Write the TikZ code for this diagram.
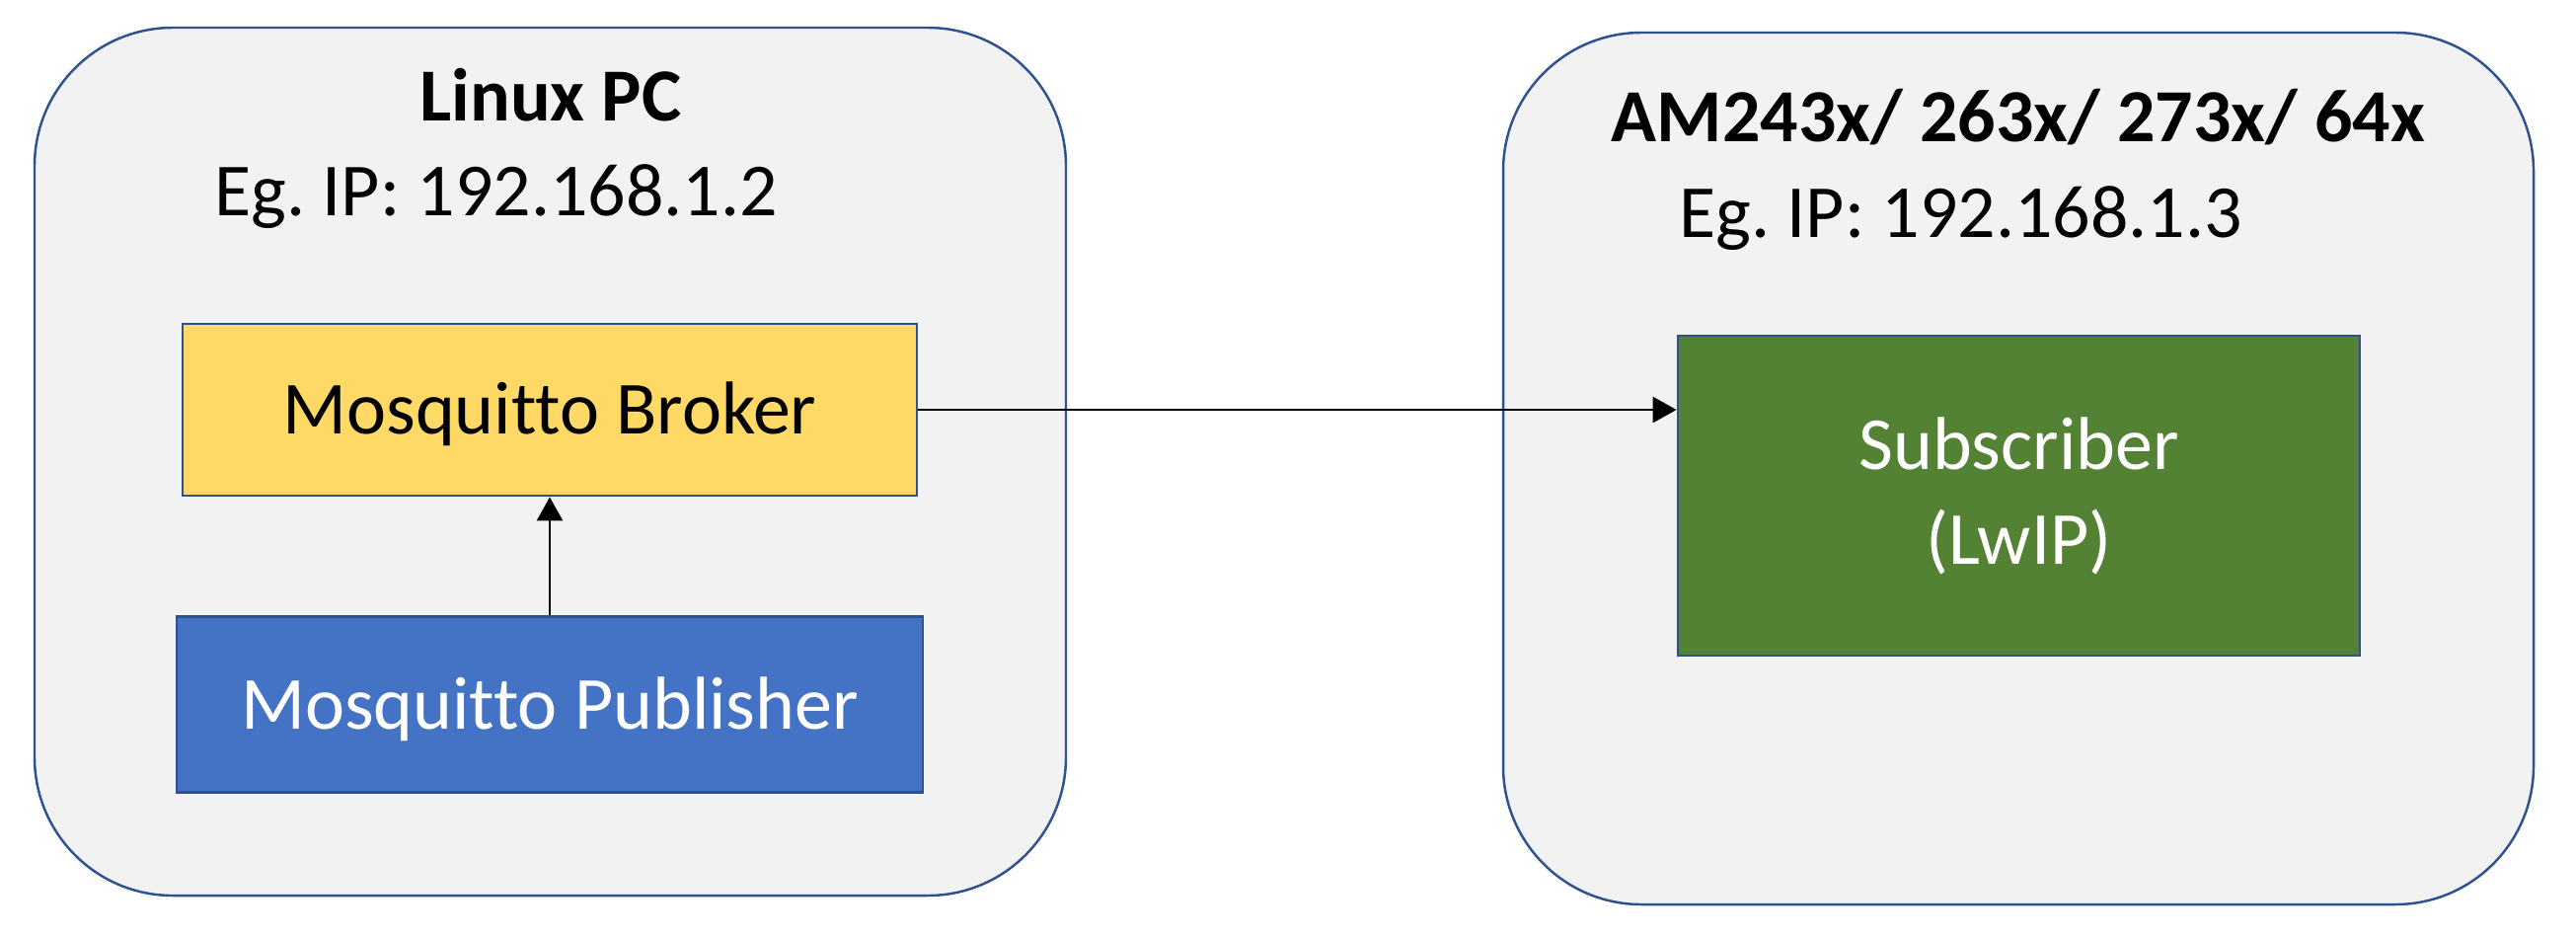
\documentclass[tikz,border=0pt]{standalone}
\usepackage{fontspec}
\setmainfont[Ligatures=NoCommon]{Carlito}
\usetikzlibrary{positioning}
\usetikzlibrary{arrows.meta}
\definecolor{hostfill}{HTML}{F2F2F2}
\definecolor{edgeblue}{HTML}{2F528F}
\definecolor{brokeryellow}{HTML}{FFD966}
\definecolor{pubblue}{HTML}{4472C4}
\definecolor{subgreen}{HTML}{548235}
\frenchspacing

\begin{document}
\begin{tikzpicture}[
hostnode/.style={rectangle, rounded corners=1.4cm, draw=edgeblue, fill=hostfill, line width=0.7pt},
blocknode/.style={rectangle, draw=edgeblue, thick, font=\fontsize{21.6}{27.3}\selectfont},
flatline/.style={text height=13.9pt, text depth=0pt},
labelnode/.style={inner sep=0pt, font=\fontsize{21.6}{27.3}\selectfont},
>={Triangle[width=0.26cm,length=0.24cm]},
]
\useasboundingbox (0,0) rectangle (26.10,-9.49);
%Hosts
\node[hostnode, minimum width=10.45cm, minimum height=8.79cm] (pc) at (5.575,-4.675) {};
\node[hostnode, minimum width=10.44cm, minimum height=8.83cm] (am) at (20.45,-4.745) {};

%Labels
\node[labelnode, anchor=base, font=\fontsize{21.6}{27.3}\selectfont\bfseries] (pctitle) at (5.58,-1.22) {Linux PC};
\node[labelnode, anchor=base, font=\fontsize{21.6}{27.3}\selectfont\bfseries] (amtitle) at (20.45,-1.43) {AM243x/ 263x/ 273x/ 64x};
\node[labelnode, anchor=base west] (pcip) at (2.17,-2.18) {Eg. IP: 192.168.1.2};
\node[labelnode, anchor=base west] (amip) at (17.01,-2.40) {Eg. IP: 192.168.1.3};

%Blocks
\node[blocknode, flatline, fill=brokeryellow, minimum width=7.44cm, minimum height=1.74cm] (broker) at (5.57,-4.15) {Mosquitto Broker};
\node[blocknode, flatline, fill=pubblue, text=white, minimum width=7.56cm, minimum height=1.78cm] (publisher) [below=1.2cm of broker] {Mosquitto Publisher};
\node[blocknode, fill=subgreen, text=white, align=center, minimum width=6.91cm, minimum height=3.24cm] (subscriber) at (20.455,-5.02) {Subscriber\\(LwIP)};

%Lines
\draw[->, thick] (publisher.north) -- (broker.south);
\draw[->, thick] (broker.east) -- (broker.east -| subscriber.west);
\end{tikzpicture}
\end{document}
